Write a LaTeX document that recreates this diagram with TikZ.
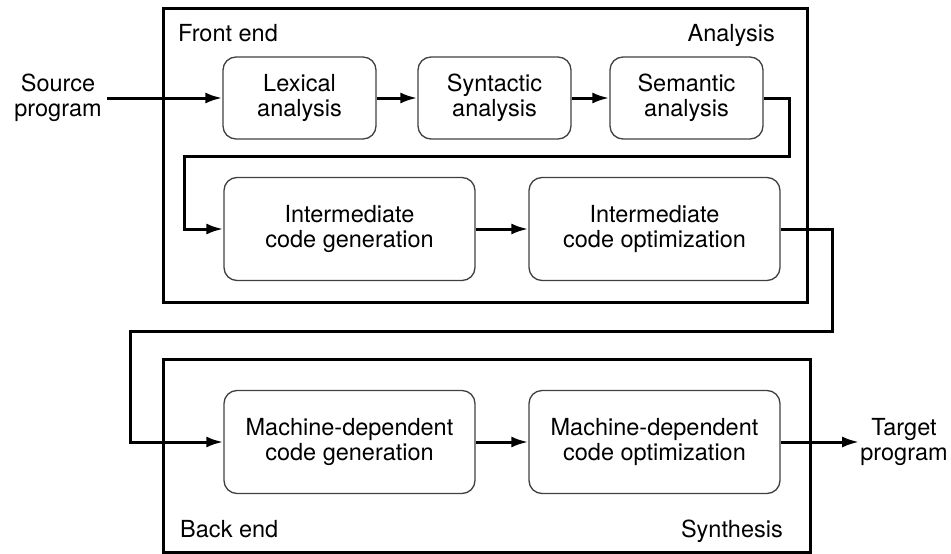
\documentclass[tikz,border=0pt]{standalone}
\usepackage{fontspec}
\setmainfont{TeX Gyre Heros}
\usetikzlibrary{arrows.meta}
\begin{document}
\begin{tikzpicture}[x=1pt,y=-1pt,
  every node/.style={font=\fontsize{23.5}{25}\selectfont, align=center},
  phase/.style={draw=black!75, line width=1.3pt, rounded corners=13pt, inner sep=0pt},
  small/.style={phase, minimum width=153pt, minimum height=82pt},
  large/.style={phase, minimum width=251pt, minimum height=103pt},
  frame/.style={draw=black, line width=3pt},
  flow/.style={draw=black, line width=3pt, -{Latex[length=17pt,width=11pt]}},
  wire/.style={draw=black, line width=3pt},
  endtext/.style={inner sep=1pt}
]
\useasboundingbox (0,0) rectangle (951,554);

% the two groups of phases
\draw[frame] (163,8) rectangle (807,302);
\draw[frame] (163,359) rectangle (810,552);

\node[anchor=base west, inner sep=0pt] (fe) at (178,41) {Front end};
\node[anchor=base east, inner sep=0pt] (an) at (775,41) {Analysis};
\node[anchor=base west, inner sep=0pt] (be) at (180,537) {Back end};
\node[anchor=base east, inner sep=0pt] (sy) at (783,537) {Synthesis};

% phases
\node[small] (lex) at (299.5,98) {Lexical\\analysis};
\node[small] (syn) at (494.5,98) {Syntactic\\analysis};
\node[small] (sem) at (686.5,98) {Semantic\\analysis};
\node[large] (ig) at (349.5,229) {Intermediate\\code generation};
\node[large] (io) at (654.5,229) {Intermediate\\code optimization};
\node[large] (mg) at (349.5,442) {Machine-dependent\\code generation};
\node[large] (mo) at (654.5,442) {Machine-dependent\\code optimization};

% input and output
\node[endtext] (src) at (58,98) {Source\\program};
\node[endtext] (tgt) at (904,442) {Target\\program};

% bends of the long connectors
\coordinate (k1) at (789,156);
\coordinate (k2) at (184,156);
\coordinate (k3) at (832,331);
\coordinate (k4) at (130,331);

% connectors
\draw[flow] ([xshift=4.5pt]src.east) -- (lex.west);
\draw[flow] (lex) -- (syn);
\draw[flow] (syn) -- (sem);
\draw[flow, rounded corners=0pt] (sem.east) -| (k1) -- (k2) |- (ig.west);
\draw[flow] (ig) -- (io);
\draw[flow] (io.east) -| (k3) -- (k4) |- (mg.west);
\draw[flow] (mg) -- (mo);
\draw[flow] (mo.east) -- (tgt.west);
\end{tikzpicture}
\end{document}
